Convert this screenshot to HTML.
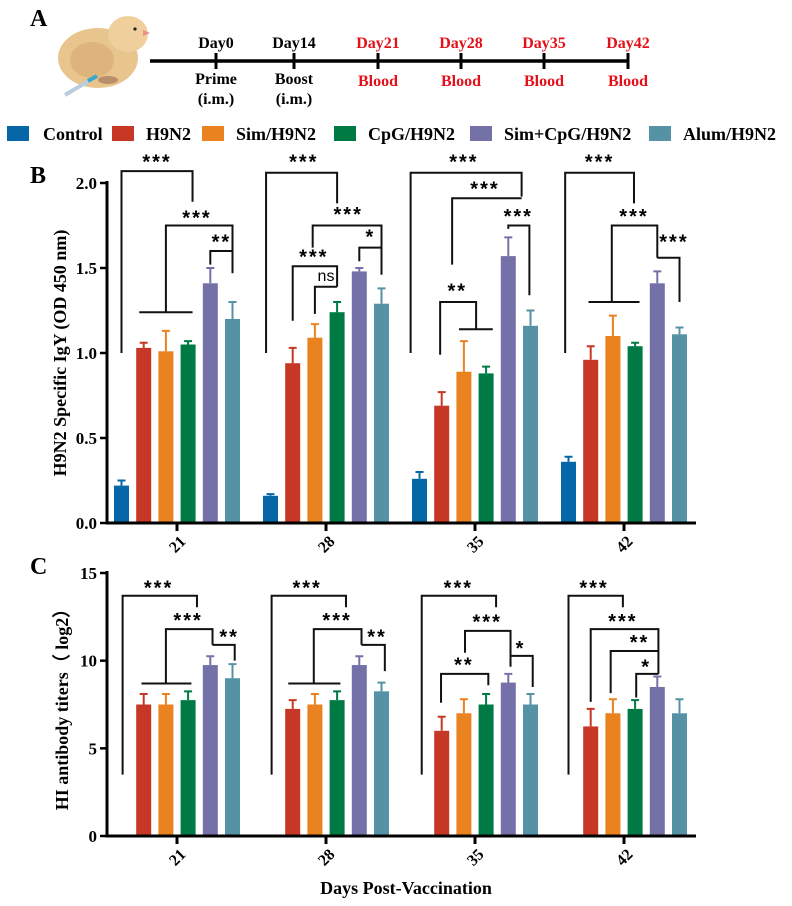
<!DOCTYPE html>
<html><head><meta charset="utf-8"><style>
html,body{margin:0;padding:0;background:#fff;}
svg{display:block;font-family:"Liberation Serif",serif;}
.b{font-weight:bold;}
</style></head><body>
<svg id="fig" width="792" height="906" viewBox="0 0 792 906" xmlns="http://www.w3.org/2000/svg">
<g id="panelA">
<text x="30" y="26" font-size="24" class="b">A</text>
<g>
<ellipse cx="98" cy="58" rx="40" ry="30" fill="#e9c58e"/>
<ellipse cx="128" cy="34" rx="20" ry="18" fill="#efd09c"/>
<ellipse cx="92" cy="60" rx="22" ry="18" fill="#dcb47c"/>
<polygon points="143,30 150,33 143,36" fill="#e88f8f"/>
<circle cx="135" cy="29" r="1.6" fill="#222"/>
<ellipse cx="108" cy="80" rx="10" ry="4" fill="#b88f6a"/>
<line x1="65" y1="95" x2="97" y2="76" stroke="#bcd" stroke-width="4"/>
<line x1="88" y1="81" x2="97" y2="76" stroke="#3aa5c8" stroke-width="4"/>
</g>
<line x1="150" y1="61" x2="629" y2="61" stroke="#000" stroke-width="3.5"/>
<g font-size="16" class="b" text-anchor="middle">
<line x1="216" y1="53" x2="216" y2="69" stroke="#000" stroke-width="3"/>
<line x1="294" y1="53" x2="294" y2="69" stroke="#000" stroke-width="3"/>
<line x1="378" y1="53" x2="378" y2="69" stroke="#000" stroke-width="3"/>
<line x1="461" y1="53" x2="461" y2="69" stroke="#000" stroke-width="3"/>
<line x1="544" y1="53" x2="544" y2="69" stroke="#000" stroke-width="3"/>
<line x1="628" y1="53" x2="628" y2="69" stroke="#000" stroke-width="3"/>
<text x="216" y="48">Day0</text>
<text x="294" y="48">Day14</text>
<text x="378" y="48" fill="#e3101a">Day21</text>
<text x="461" y="48" fill="#e3101a">Day28</text>
<text x="544" y="48" fill="#e3101a">Day35</text>
<text x="628" y="48" fill="#e3101a">Day42</text>
<text x="216" y="84">Prime</text>
<text x="216" y="104">(i.m.)</text>
<text x="294" y="84">Boost</text>
<text x="294" y="104">(i.m.)</text>
<text x="378" y="86" fill="#e3101a">Blood</text>
<text x="461" y="86" fill="#e3101a">Blood</text>
<text x="544" y="86" fill="#e3101a">Blood</text>
<text x="628" y="86" fill="#e3101a">Blood</text>
</g>
</g>
<g id="legend" font-size="18" class="b"></g>
<g id="panelB"></g>
<g id="panelC"></g>
<text x="30" y="183" font-size="24" class="b">B</text>
<text x="30" y="574" font-size="24" class="b">C</text>
<text x="406" y="894" font-size="18" class="b" text-anchor="middle">Days Post-Vaccination</text>
</svg>
<script>
const NS="http://www.w3.org/2000/svg";
const groups=["Control","H9N2","Sim/H9N2","CpG/H9N2","Sim+CpG/H9N2","Alum/H9N2"];
const colors=["#0567a8","#c63725","#e9821f","#007a45","#7470a8","#5592a5"];
const days=["21","28","35","42"];
// Panel B values (OD450) per day, order = groups
const igyMean=[[0.22,1.03,1.01,1.05,1.41,1.20],[0.16,0.94,1.09,1.24,1.48,1.29],[0.26,0.69,0.89,0.88,1.57,1.16],[0.36,0.96,1.10,1.04,1.41,1.11]];
const igyErr=[[0.03,0.03,0.12,0.02,0.09,0.10],[0.01,0.09,0.08,0.06,0.02,0.09],[0.04,0.08,0.18,0.04,0.11,0.09],[0.03,0.08,0.12,0.02,0.07,0.04]];
const igyTicks=["0.0","0.5","1.0","1.5","2.0"];
// Panel C values (log2 HI) - no control
const hiMean=[[null,7.5,7.5,7.75,9.75,9.0],[null,7.25,7.5,7.75,9.75,8.25],[null,6.0,7.0,7.5,8.75,7.5],[null,6.25,7.0,7.25,8.5,7.0]];
const hiErr=[[null,0.6,0.6,0.5,0.5,0.8],[null,0.5,0.6,0.5,0.5,0.5],[null,0.8,0.8,0.6,0.5,0.6],[null,1.0,0.8,0.5,0.6,0.8]];
const hiTicks=["0","5","10","15"];
// significance brackets: [day, [[barIdx,value],...]]
const igyBrackets=[
[0,[[0,1.0],[0,2.07],[3.2,2.07],[3.2,1.89]]],[0,[[2,1.24],[2,1.75],[5,1.75],[5,1.47]]],[0,[[0.8,1.24],[3.2,1.24]]],[0,[[4,1.52],[4,1.6],[5,1.6],[5,1.47]]],
[1,[[-0.2,1.0],[-0.2,2.06],[3.0,2.06],[3.0,1.88]]],[1,[[1.9,1.62],[1.9,1.75],[5,1.75],[5,1.46]]],[1,[[4,1.54],[4,1.62],[5,1.62]]],[1,[[1,1.19],[1,1.51],[3,1.51],[3,1.39]]],[1,[[2,1.23],[2,1.39],[3,1.39]]],
[2,[[-0.4,1.0],[-0.4,2.06],[4.6,2.06],[4.6,1.92]]],[2,[[1.47,1.52],[1.47,1.91],[4.6,1.91]]],[2,[[4,1.73],[4,1.75],[4.95,1.75],[4.95,1.34]]],[2,[[0.93,0.99],[0.93,1.30],[2.55,1.30],[2.55,1.14]]],[2,[[1.78,1.14],[3.3,1.14]]],
[3,[[-0.15,1.0],[-0.15,2.06],[2.95,2.06],[2.95,1.88]]],[3,[[1.95,1.30],[1.95,1.75],[4,1.75],[4,1.56]]],[3,[[0.9,1.30],[3.2,1.30]]],[3,[[4,1.56],[5,1.56],[5,1.30]]]];
const igyLabels=[[0,1.6,2.15,"***"],[0,3.4,1.82,"***"],[0,4.5,1.68,"**"],[1,1.5,2.15,"***"],[1,3.5,1.84,"***"],[1,4.5,1.71,"*"],[1,1.95,1.59,"***"],[1,2.5,1.46,"ns"],
[2,2.0,2.15,"***"],[2,2.95,1.99,"***"],[2,4.45,1.83,"***"],[2,1.7,1.39,"**"],[3,1.4,2.15,"***"],[3,2.95,1.83,"***"],[3,4.75,1.68,"***"]];
const hiBrackets=[
[0,[[0.05,3.5],[0.05,13.7],[3.4,13.7],[3.4,13.05]]],[0,[[2,8.7],[2,11.8],[4.1,11.8],[4.1,10.9]]],[0,[[0.9,8.7],[3.15,8.7]]],[0,[[4.1,10.9],[5.1,10.9],[5.1,10.0]]],
[1,[[0.05,3.5],[0.05,13.7],[3.4,13.7],[3.4,13.05]]],[1,[[1.95,8.7],[1.95,11.8],[4.1,11.8],[4.1,10.9]]],[1,[[0.8,8.7],[3.15,8.7]]],[1,[[4.1,10.9],[5.15,10.9],[5.15,9.4]]],
[2,[[0.1,3.5],[0.1,13.7],[3.45,13.7],[3.45,13.05]]],[2,[[2.05,10.45],[2.05,11.7],[4.1,11.7],[4.1,9.65]]],[2,[[4.1,10.27],[5.1,10.27],[5.1,8.5]]],[2,[[0.97,7.6],[0.97,9.25],[3.1,9.25],[3.1,8.6]]],
[3,[[0,3.5],[0,13.7],[2.45,13.7],[2.45,13.05]]],[3,[[1,7.65],[1,11.8],[4.05,11.8],[4.05,9.25]]],[3,[[1.9,8.15],[1.9,10.55],[4.05,10.55]]],[3,[[3.05,7.9],[3.05,9.25],[4.05,9.25]]]];
const hiLabels=[[0,1.67,14.4,"***"],[0,3.0,12.55,"***"],[0,4.85,11.6,"**"],[1,1.65,14.4,"***"],[1,3.0,12.55,"***"],[1,4.8,11.6,"**"],
[2,1.75,14.4,"***"],[2,3.05,12.45,"***"],[2,4.55,10.95,"*"],[2,2.0,10.0,"**"],[3,1.15,14.4,"***"],[3,2.45,12.5,"***"],[3,3.2,11.3,"**"],[3,3.5,9.9,"*"]];

function mk(tag,attrs,parent,txt){const e=document.createElementNS(NS,tag);for(const k in attrs)e.setAttribute(k,attrs[k]);if(txt!==undefined)e.textContent=txt;parent.appendChild(e);return e;}

// legend
const lg=document.getElementById("legend");
const lgSq=[7,112,202,334,470,649];
groups.forEach((g,i)=>{
 const r=mk("rect",{x:lgSq[i],y:126,width:22,height:15,fill:colors[i]},lg);
 
 
 const t=mk("text",{x:lgSq[i]+(i==0?36:34),y:140},lg,g);
 
 
});

function panel(root,opt){
 const x0=107,x1=696,yb=opt.y0,yt=opt.yTop,vmax=opt.vmax;
 const Y=v=>yb-(yb-yt)*v/vmax;
 const tickX=d=>177+149*d;
 const X=(d,i)=>tickX(d)-55.5+22.2*i;
 // bars
 opt.mean.forEach((row,d)=>row.forEach((v,i)=>{
  if(v===null)return;
  const top=Y(v),eT=Y(v+opt.err[d][i]);
  const r=mk("rect",{x:X(d,i)-7.5,y:top,width:15,height:yb-top,fill:colors[i]},root);
  
  
  const e=mk("path",{d:`M${X(d,i)},${top}V${eT}M${X(d,i)-4},${eT}H${X(d,i)+4}`,stroke:colors[i],"stroke-width":2,fill:"none"},root);
  
  
 }));
 // brackets
 opt.br.forEach(b=>{
  const d=b[0];const p=b[1].map((q,k)=>(k?"L":"M")+X(d,q[0])+","+Y(q[1])).join("");
  const e=mk("path",{d:p,stroke:"#111","stroke-width":2,fill:"none"},root);
  
  
 });
 opt.lb.forEach(l=>{
  const ns=l[3]=="ns";
  const t=mk("text",{x:X(l[0],l[1]),y:Y(l[2])+(ns?6:11),"text-anchor":"middle","font-size":ns?16:20,"font-family":"Liberation Sans,sans-serif","font-weight":ns?"normal":"bold","letter-spacing":ns?0:2},root,l[3]);
  
  
 });
 // axes
 const ax=mk("path",{d:`M${x0},${yt-2}V${yb}H${x1}`,stroke:"#000","stroke-width":3,fill:"none"},root);
 
 
 opt.ticks.forEach((t,k)=>{
  const v=parseFloat(t),y=Y(v);
  mk("line",{x1:x0-7,y1:y,x2:x0,y2:y,stroke:"#000","stroke-width":2.5},root);
  const tl=mk("text",{x:x0-10,y:y+6,"text-anchor":"end","font-size":17,"font-weight":"bold"},root,t);
  
  
 });
 days.forEach((d,k)=>{
  const x=tickX(k);
  mk("line",{x1:x,y1:yb,x2:x,y2:yb+8,stroke:"#000","stroke-width":3},root);
  const tl=mk("text",{x:0,y:0,"text-anchor":"middle","font-size":16,"font-weight":"bold",transform:`translate(${x+4},${yb+25}) rotate(-45)`},root,d);
  
  
 });
 const yt2=mk("text",{x:0,y:0,"text-anchor":"middle","font-size":18,"font-weight":"bold",transform:`translate(${opt.titleX},${opt.titleY}) rotate(-90)`},root,opt.title);
 
 
}
panel(document.getElementById("panelB"),{y0:523,yTop:183,vmax:2.0,mean:igyMean,err:igyErr,ticks:igyTicks,br:igyBrackets,lb:igyLabels,title:"H9N2 Specific IgY (OD 450 nm)",titleX:66,titleY:353});
panel(document.getElementById("panelC"),{y0:836,yTop:573,vmax:15,mean:hiMean,err:hiErr,ticks:hiTicks,br:hiBrackets,lb:hiLabels,title:"HI antibody titers（ log2）",titleX:68,titleY:705});
</script>
</body></html>
